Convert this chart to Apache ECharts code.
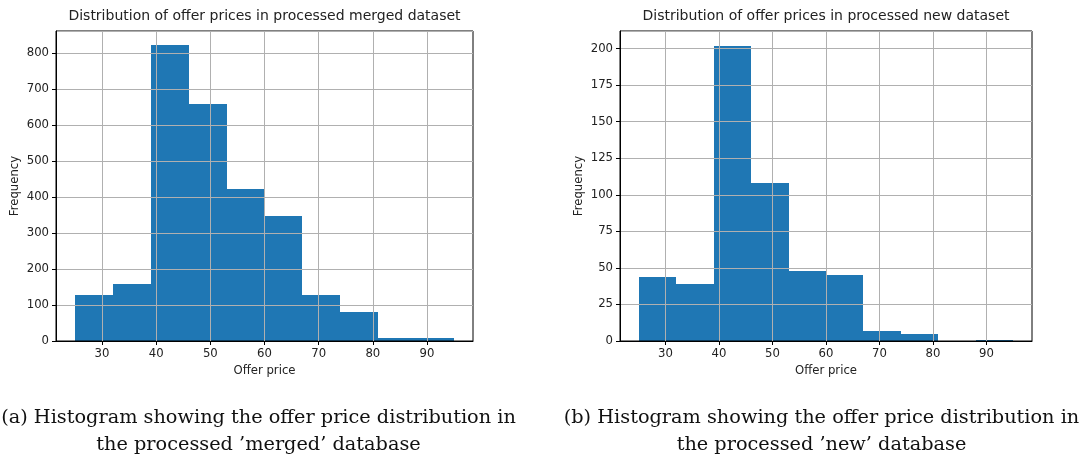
<!DOCTYPE html>
<html><head><meta charset="utf-8">
<script src="https://cdn.jsdelivr.net/npm/echarts@6/dist/echarts.min.js"></script>
<style>html,body{margin:0;padding:0;background:#fff}#c{width:1088px;height:457px}</style>
</head><body><div id="c"></div>
<script>
const binEdges = [25, 32, 39, 46, 53, 60, 67, 74, 81, 88, 95];
const mergedCounts = [129, 159, 822, 659, 421, 348, 127, 80, 9, 9];
const newCounts = [44, 39, 202, 108, 48, 45, 7, 5, 0, 1];
const xTicks = [30, 40, 50, 60, 70, 80, 90];
const titles = ['Distribution of offer prices in processed merged dataset', 'Distribution of offer prices in processed new dataset'];
const captions = ["(a) Histogram showing the offer price distribution in\nthe processed \u2019merged\u2019 database", "(b) Histogram showing the offer price distribution in\nthe processed \u2019new\u2019 database"];

function binData(counts) {
  return counts.map((c, i) => [binEdges[i], binEdges[i + 1], c]);
}
function renderBar(params, api) {
  const p0 = api.coord([api.value(0), 0]);
  const p1 = api.coord([api.value(1), api.value(2)]);
  const x0 = Math.round(p0[0]), x1 = Math.round(p1[0]);
  const yb = Math.round(p0[1]), yt = Math.round(p1[1]);
  return { type: 'rect', shape: { x: x0, y: yt, width: x1 - x0, height: yb - yt },
    style: { fill: '#1f77b4' } };
}
const font = 'DejaVu Sans';
const fs = 11.7;
const grids = [
  { left: 56, top: 31, width: 417, height: 310 },
  { left: 620, top: 31, width: 412, height: 310 }
];
const yMax = [861, 212], yInt = [100, 25];
function xAxis(i) {
  return { type: 'value', gridIndex: i, min: 21.5, max: 98.5, z: 5,
    name: 'Offer price', nameLocation: 'middle', nameGap: 23,
    nameTextStyle: { fontFamily: font, fontSize: fs, color: '#222' },
    axisLine: { lineStyle: { color: '#000', width: 1 } },
    axisTick: { customValues: xTicks, length: 4, lineStyle: { color: '#000' } },
    axisLabel: { customValues: xTicks, fontFamily: font, fontSize: fs, color: '#222', margin: 7 },
    splitLine: { show: true, lineStyle: { color: '#b0b0b0', width: 1 } } };
}
function yAxis(i) {
  return { type: 'value', gridIndex: i, min: 0, max: yMax[i], interval: yInt[i], z: 5,
    name: 'Frequency', nameLocation: 'middle', nameGap: 35,
    nameTextStyle: { fontFamily: font, fontSize: fs, color: '#222' },
    axisLine: { show: true, lineStyle: { color: '#000', width: 1 } },
    axisTick: { show: true, length: 4, lineStyle: { color: '#000' } },
    axisLabel: { fontFamily: font, fontSize: fs, color: '#222', margin: 7, showMaxLabel: false },
    splitLine: { show: true, lineStyle: { color: '#b0b0b0', width: 1 } } };
}
const chart = echarts.init(document.getElementById('c'), null, { renderer: 'canvas' });
const titleStyle = { fontFamily: font, fontSize: 14, fontWeight: 'normal', color: '#222' };
const capStyle = { fontFamily: 'DejaVu Serif', fontSize: 19.3, fontWeight: 'normal', color: '#111', lineHeight: 27 };
chart.setOption({
  animation: false,
  backgroundColor: '#fff',
  title: [
    { text: titles[0], left: 259.5, top: 4, textAlign: 'center', textStyle: titleStyle },
    { text: titles[1], left: 821, top: 4, textAlign: 'center', textStyle: titleStyle },
    { text: captions[0], left: 253.5, top: 399, textAlign: 'center', textStyle: capStyle },
    { text: captions[1], left: 816.5, top: 399, textAlign: 'center', textStyle: capStyle }
  ],
  grid: grids.map(g => Object.assign({ show: true, borderColor: '#000', borderWidth: 1, backgroundColor: 'transparent', z: 5 }, g)),
  xAxis: [xAxis(0), xAxis(1)],
  yAxis: [yAxis(0), yAxis(1)],
  series: [
    { type: 'custom', xAxisIndex: 0, yAxisIndex: 0, data: binData(mergedCounts), renderItem: renderBar, encode: { x: [0, 1], y: 2 }, z: 1 },
    { type: 'custom', xAxisIndex: 1, yAxisIndex: 1, data: binData(newCounts), renderItem: renderBar, encode: { x: [0, 1], y: 2 }, z: 1 }
  ]
});
</script></body></html>
